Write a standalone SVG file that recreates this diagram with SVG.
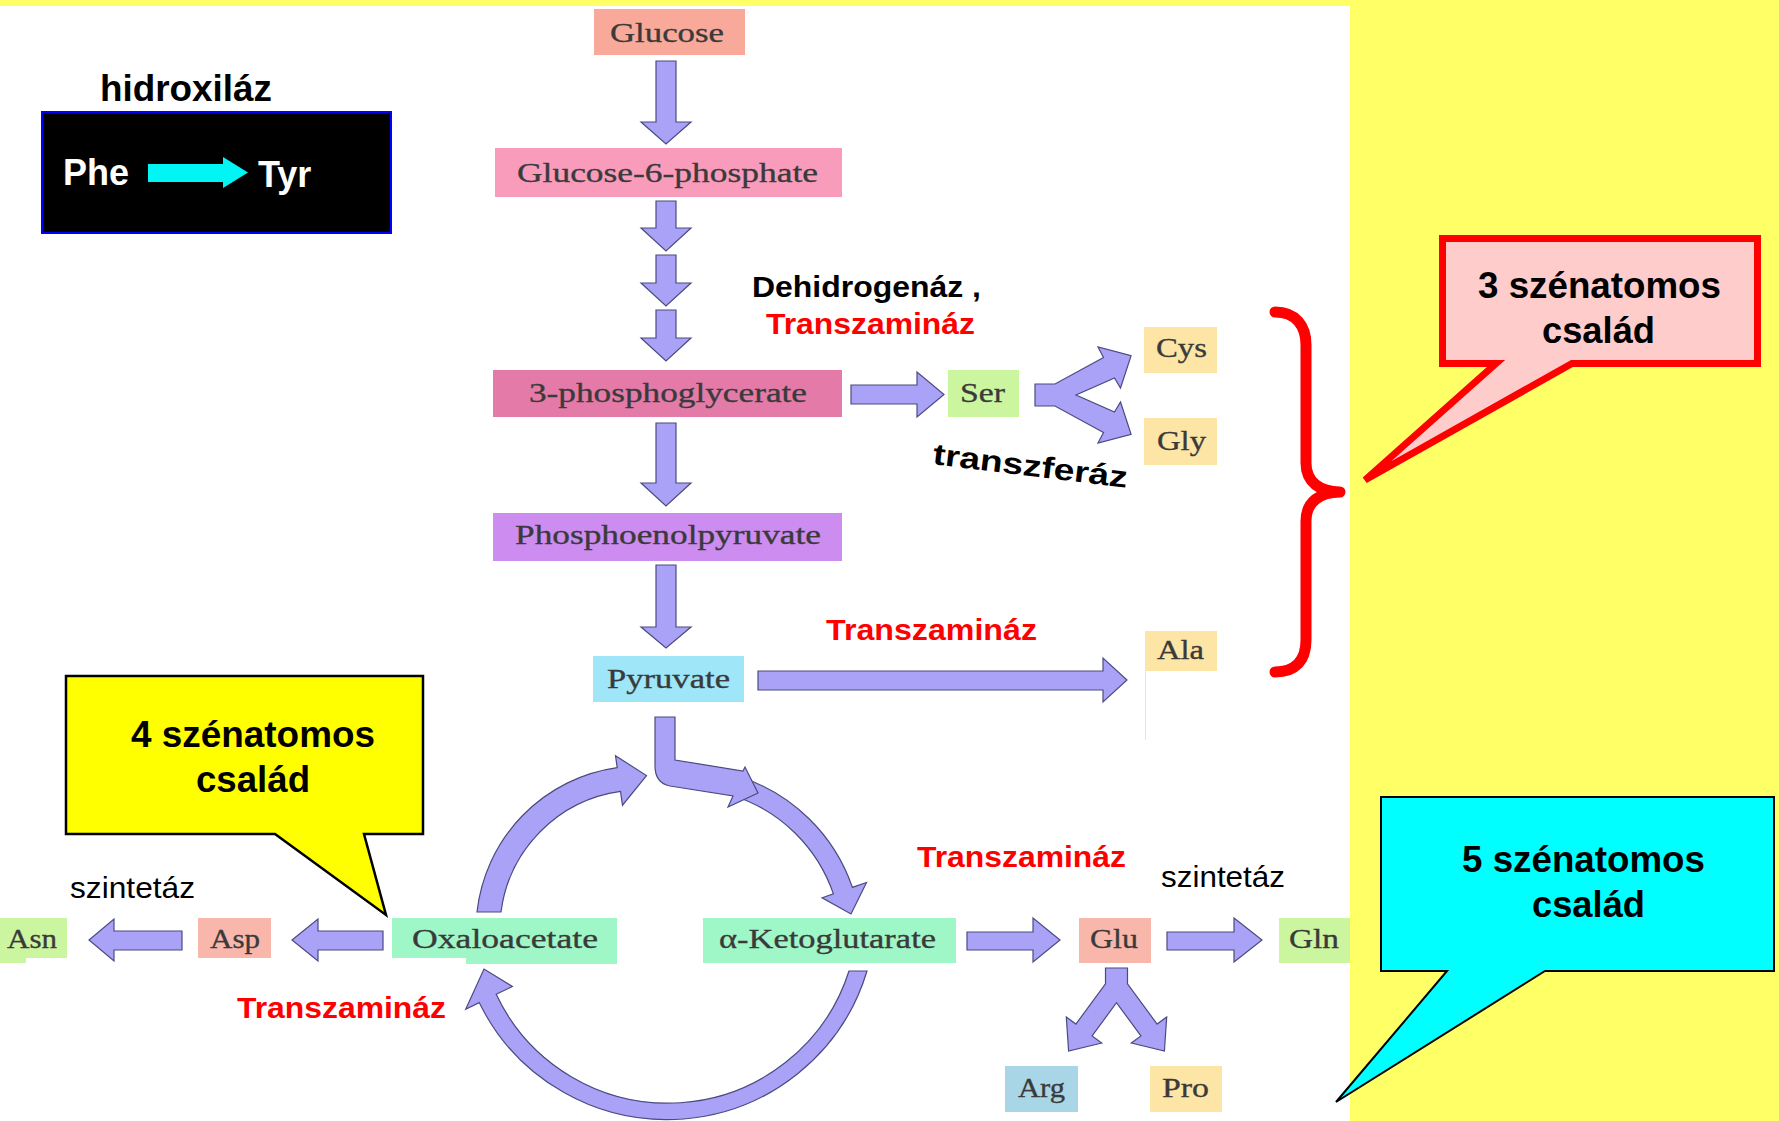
<svg xmlns="http://www.w3.org/2000/svg" width="1779" height="1121" viewBox="0 0 1779 1121">
  <style>
    .lbl { font-family: "Liberation Serif", "DejaVu Serif", serif; font-size: 28px; fill: #3a3a3a; stroke: #3a3a3a; stroke-width: 0.35; }
    .enz { font-family: "Liberation Sans", Arial, sans-serif; font-weight: bold; font-size: 30px; }
    .red { fill: #ff0000; }
    .blk { fill: #000000; }
    .reg { font-family: "Liberation Sans", Arial, sans-serif; font-size: 30px; fill: #000000; }
    .big { font-family: "Liberation Sans", Arial, sans-serif; font-weight: bold; font-size: 36px; fill: #000000; }
    .arr { fill: #a9a2f7; stroke: #4b4b80; stroke-width: 1.2; stroke-linejoin: miter; }
  </style>

  <!-- page background: yellow margin with white drawing area -->
  <rect x="0" y="0" width="1779" height="1121" fill="#ffff66"/>
  <rect x="0" y="6" width="1350" height="1115" fill="#ffffff"/>

  <!-- inset: Phe to Tyr -->
  <g id="phe-tyr">
    <text class="big" x="100" y="101" font-size="35" textLength="172" lengthAdjust="spacingAndGlyphs">hidroxiláz</text>
    <rect x="42" y="112" width="349" height="121" fill="#000000" stroke="#0000ff" stroke-width="2"/>
    <text class="big" x="63" y="185" style="fill:#ffffff">Phe</text>
    <path d="M148,164 H223 V157 L248,172.5 L223,188 V182 H148 Z" fill="#00f5f5"/>
    <text class="big" x="258" y="187" style="fill:#ffffff">Tyr</text>
  </g>

  <!-- metabolite nodes -->
  <g id="glucose">
    <rect x="594" y="9" width="151" height="46" fill="#f9a99a"/>
    <text class="lbl" x="610" y="42" textLength="114" lengthAdjust="spacingAndGlyphs">Glucose</text>
  </g>
  <g id="glucose-6-phosphate">
    <rect x="495" y="148" width="347" height="49" fill="#f99cbc"/>
    <text class="lbl" x="517" y="182" textLength="301" lengthAdjust="spacingAndGlyphs">Glucose-6-phosphate</text>
  </g>
  <g id="phosphoglycerate">
    <rect x="493" y="370" width="349" height="47" fill="#e37aa8"/>
    <text class="lbl" x="529" y="402" textLength="278" lengthAdjust="spacingAndGlyphs">3-phosphoglycerate</text>
  </g>
  <g id="phosphoenolpyruvate">
    <rect x="493" y="513" width="349" height="48" fill="#cc8cf0"/>
    <text class="lbl" x="515" y="544" textLength="306" lengthAdjust="spacingAndGlyphs">Phosphoenolpyruvate</text>
  </g>
  <g id="pyruvate">
    <rect x="593" y="656" width="151" height="46" fill="#9ee6f8"/>
    <text class="lbl" x="607" y="688" textLength="123" lengthAdjust="spacingAndGlyphs">Pyruvate</text>
  </g>
  <g id="ser">
    <rect x="948" y="370" width="71" height="47" fill="#ccf5a0"/>
    <text class="lbl" x="960" y="402" textLength="45" lengthAdjust="spacingAndGlyphs">Ser</text>
  </g>
  <g id="cys">
    <rect x="1144" y="327" width="73" height="46" fill="#fde5a5"/>
    <text class="lbl" x="1156" y="357" textLength="51" lengthAdjust="spacingAndGlyphs">Cys</text>
  </g>
  <g id="gly">
    <rect x="1144" y="418" width="73" height="47" fill="#fde5a5"/>
    <text class="lbl" x="1157" y="450" textLength="49" lengthAdjust="spacingAndGlyphs">Gly</text>
  </g>
  <g id="ala">
    <rect x="1145" y="631" width="72" height="40" fill="#fde5a5"/>
    <line x1="1145.5" y1="671" x2="1145.5" y2="740" stroke="#fde5a5" stroke-width="1"/>
    <text class="lbl" x="1157" y="659" textLength="47" lengthAdjust="spacingAndGlyphs">Ala</text>
  </g>
  <g id="oxaloacetate">
    <rect x="392" y="918" width="225" height="46" fill="#9ff7c7"/>
    <text class="lbl" x="412" y="948" textLength="186" lengthAdjust="spacingAndGlyphs">Oxaloacetate</text>
  </g>
  <g id="asp">
    <rect x="198" y="918" width="73" height="40" fill="#f9b7ab"/>
    <text class="lbl" x="210" y="948" textLength="50" lengthAdjust="spacingAndGlyphs">Asp</text>
  </g>
  <g id="asn">
    <rect x="0" y="918" width="67" height="45" fill="#ccf5a0"/>
    <text class="lbl" x="7" y="948" textLength="50" lengthAdjust="spacingAndGlyphs">Asn</text>
  </g>
  <!-- white strip trimming the lower edge of the left row -->
  <rect x="26" y="958" width="440" height="10" fill="#ffffff"/>
  <g id="ketoglutarate">
    <rect x="703" y="918" width="253" height="45" fill="#9ff7c7"/>
    <text class="lbl" x="719" y="948" textLength="217" lengthAdjust="spacingAndGlyphs">α-Ketoglutarate</text>
  </g>
  <g id="glu">
    <rect x="1079" y="918" width="72" height="45" fill="#f9b7ab"/>
    <text class="lbl" x="1090" y="948" textLength="48" lengthAdjust="spacingAndGlyphs">Glu</text>
  </g>
  <g id="gln">
    <rect x="1279" y="918" width="71" height="45" fill="#ccf5a0"/>
    <text class="lbl" x="1289" y="948" textLength="50" lengthAdjust="spacingAndGlyphs">Gln</text>
  </g>
  <g id="arg">
    <rect x="1005" y="1066" width="73" height="46" fill="#a9d6e6"/>
    <text class="lbl" x="1018" y="1097" textLength="47" lengthAdjust="spacingAndGlyphs">Arg</text>
  </g>
  <g id="pro">
    <rect x="1150" y="1066" width="72" height="46" fill="#fde5a5"/>
    <text class="lbl" x="1162" y="1097" textLength="47" lengthAdjust="spacingAndGlyphs">Pro</text>
  </g>

  <!-- pathway arrows -->
  <g id="connectors">
    <path class="arr" d="M656,61 H676 V122 H691 L666,144 L641,122 H656 Z"/>
    <path class="arr" d="M656,201 H676 V228 H691 L666,251 L641,228 H656 Z"/>
    <path class="arr" d="M656,255 H676 V283 H691 L666,306 L641,283 H656 Z"/>
    <path class="arr" d="M656,310 H676 V338 H691 L666,361 L641,338 H656 Z"/>
    <path class="arr" d="M656,423 H676 V483 H691 L666,506 L641,483 H656 Z"/>
    <path class="arr" d="M656,565 H676 V627 H691 L666,648 L641,627 H656 Z"/>

    <path class="arr" d="M851,385 H917 V372 L944,394.5 L917,417 V404 H851 Z"/>
    <path class="arr" d="M1035,384 L1055,384 L1103.5,357.5 L1098,347 L1131.1,355.6 L1120.5,388 L1114.5,378 L1076,395 L1114.5,412 L1120.5,402 L1131.1,434.4 L1098,443 L1103.5,432.5 L1055,406 L1035,406 Z"/>

    <path class="arr" d="M758,671 H1103 V658 L1127,680 L1103,702 V690 H758 Z"/>

    <!-- citric acid cycle arcs -->
    <path class="arr" d="M739.7,776.7 A177,177 0 0,1 852.4,887.4 L866.5,882.5 L851,914 L822.1,897.8 L833.4,893.9 A157,157 0 0,0 733.5,795.7 Z"/>
    <path class="arr" d="M655,717 L675,717 L675,760 L743,771 L745,767 L758,793 L728,807 L733,796 L670,786 Q655,783 655,766 Z"/>
    <path class="arr" d="M477,912 A164,164 0 0,1 617.2,767.6 L615.5,755.7 L646.5,775.6 L622.5,805.2 L620.5,791.4 A140,140 0 0,0 501,912 Z"/>
    <path class="arr" d="M867,971 A209,209 0 0,1 479.2,1002.6 L465.7,1009.2 L484,969 L512.4,986.4 L496.2,994.3 A190,190 0 0,0 849,971 Z"/>

    <path class="arr" d="M383,931 H318 V919 L292,940 L318,961 V950 H383 Z"/>
    <path class="arr" d="M182,931 H114 V919 L89,940 L114,961 V950 H182 Z"/>

    <path class="arr" d="M967,932 H1033 V918 L1060,940 L1033,962 V950 H967 Z"/>
    <path class="arr" d="M1167,932 H1234 V918 L1262,940 L1234,962 V950 H1167 Z"/>
    <path class="arr" d="M1105.5,968 L1105.5,983.8 L1075.9,1024.1 L1066.3,1017 L1068.6,1051 L1101.7,1043 L1092.1,1035.9 L1116.5,1002.7 L1140.9,1035.9 L1131.3,1043 L1164.4,1051 L1166.7,1017 L1157.1,1024.1 L1127.5,983.8 L1127.5,968 Z"/>
  </g>

  <!-- enzyme labels -->
  <g id="enzymes">
    <text class="enz blk" x="752" y="297" textLength="229" lengthAdjust="spacingAndGlyphs">Dehidrogenáz ,</text>
    <text class="enz red" x="766" y="334" textLength="209" lengthAdjust="spacingAndGlyphs">Transzamináz</text>
    <text class="enz blk" x="932" y="464" font-size="37" textLength="196" lengthAdjust="spacingAndGlyphs" transform="rotate(7 932 464)">transzferáz</text>
    <text class="enz red" x="826" y="640" textLength="211" lengthAdjust="spacingAndGlyphs">Transzamináz</text>
    <text class="enz red" x="917" y="867" textLength="209" lengthAdjust="spacingAndGlyphs">Transzamináz</text>
    <text class="enz red" x="237" y="1018" textLength="209" lengthAdjust="spacingAndGlyphs">Transzamináz</text>
    <text class="reg" x="70" y="898" textLength="125" lengthAdjust="spacingAndGlyphs">szintetáz</text>
    <text class="reg" x="1161" y="887" textLength="124" lengthAdjust="spacingAndGlyphs">szintetáz</text>
  </g>

  <!-- brace grouping the three-carbon family -->
  <g id="brace">
    <path d="M1275,312 C1296,312 1306,326 1306,345 L1306,463 C1306,482 1320,492 1340,492 C1320,492 1306,502 1306,521 L1306,640 C1306,660 1296,672 1275,672" fill="none" stroke="#ff0000" stroke-width="11" stroke-linecap="round" stroke-linejoin="round"/>
  </g>

  <!-- family callouts -->
  <g id="callout-3">
    <path d="M1442.5,238.5 H1757.5 V363.5 H1572 L1365,480 L1496,363.5 H1442.5 Z" fill="#ffcccc" stroke="#ff0000" stroke-width="7"/>
    <text class="big" x="1478" y="298" textLength="243" lengthAdjust="spacingAndGlyphs">3 szénatomos</text>
    <text class="big" x="1542" y="343" textLength="113" lengthAdjust="spacingAndGlyphs">család</text>
  </g>
  <g id="callout-4">
    <path d="M66,676 H423 V834 H364 L386,915 L275,834 H66 Z" fill="#ffff00" stroke="#000000" stroke-width="2.5"/>
    <text class="big" x="131" y="747" textLength="244" lengthAdjust="spacingAndGlyphs">4 szénatomos</text>
    <text class="big" x="196" y="792" textLength="114" lengthAdjust="spacingAndGlyphs">család</text>
  </g>
  <g id="callout-5">
    <path d="M1381,797 H1774 V971 H1545 L1336,1102 L1447,971 H1381 Z" fill="#00ffff" stroke="#000000" stroke-width="2"/>
    <text class="big" x="1462" y="872" textLength="243" lengthAdjust="spacingAndGlyphs">5 szénatomos</text>
    <text class="big" x="1532" y="917" textLength="113" lengthAdjust="spacingAndGlyphs">család</text>
  </g>
</svg>
